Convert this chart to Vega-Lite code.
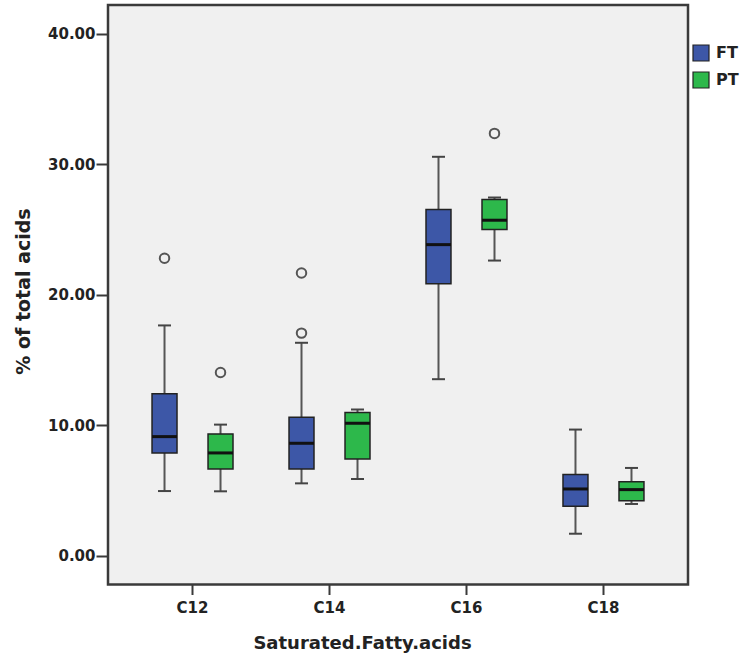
{
  "$schema": "https://vega.github.io/schema/vega-lite/v6.json",
  "autosize": {"type": "none"},
  "padding": {"left": 108, "top": 5, "right": 54, "bottom": 74.5},
  "width": 580,
  "height": 579.5,
  "background": "white",
  "config": {
    "view": {"fill": "#f0f0f0", "stroke": "#3a3a3a", "strokeWidth": 2.5},
    "axis": {
      "grid": false,
      "domain": false,
      "labelFont": "DejaVu Sans",
      "labelFontWeight": "bold",
      "labelFontSize": 15,
      "labelColor": "#222",
      "titleFont": "DejaVu Sans",
      "titleFontWeight": "bold",
      "titleColor": "#222",
      "tickColor": "#3a3a3a",
      "tickWidth": 2
    },
    "legend": {
      "labelFont": "DejaVu Sans",
      "labelFontWeight": "bold",
      "labelFontSize": 16,
      "labelColor": "#222"
    }
  },
  "datasets": {
    "stats": [
      {"acid": "C12", "group": "FT", "lower": 4.96, "q1": 7.88, "median": 9.13, "q3": 12.41, "upper": 17.65},
      {"acid": "C12", "group": "PT", "lower": 4.94, "q1": 6.65, "median": 7.88, "q3": 9.34, "upper": 10.05},
      {"acid": "C14", "group": "FT", "lower": 5.55, "q1": 6.65, "median": 8.62, "q3": 10.62, "upper": 16.32},
      {"acid": "C14", "group": "PT", "lower": 5.89, "q1": 7.42, "median": 10.16, "q3": 10.97, "upper": 11.2},
      {"acid": "C16", "group": "FT", "lower": 13.53, "q1": 20.85, "median": 23.84, "q3": 26.53, "upper": 30.57},
      {"acid": "C16", "group": "PT", "lower": 22.62, "q1": 25.0, "median": 25.71, "q3": 27.3, "upper": 27.45},
      {"acid": "C18", "group": "FT", "lower": 1.69, "q1": 3.79, "median": 5.12, "q3": 6.22, "upper": 9.67},
      {"acid": "C18", "group": "PT", "lower": 3.97, "q1": 4.22, "median": 5.07, "q3": 5.68, "upper": 6.73}
    ],
    "outliers": [
      {"acid": "C12", "group": "FT", "value": 22.8},
      {"acid": "C12", "group": "PT", "value": 14.04},
      {"acid": "C14", "group": "FT", "value": 21.67},
      {"acid": "C14", "group": "FT", "value": 17.06},
      {"acid": "C16", "group": "PT", "value": 32.36}
    ]
  },
  "encoding": {
    "x": {
      "field": "acid",
      "type": "nominal",
      "scale": {"domain": ["C12", "C14", "C16", "C18"], "paddingInner": 0.2, "paddingOuter": 0.217},
      "axis": {
        "labelAngle": 0,
        "tickSize": 10,
        "labelPadding": 6,
        "title": "Saturated.Fatty.acids",
        "titleFontSize": 18,
        "titleX": 254,
        "titleY": 64,
        "titleAlign": "center",
        "titleBaseline": "alphabetic"
      }
    },
    "xOffset": {
      "field": "group",
      "type": "nominal",
      "scale": {"domain": ["FT", "PT"], "paddingInner": 0.554, "paddingOuter": 0.2555}
    }
  },
  "layer": [
    {
      "data": {"name": "stats"},
      "mark": {"type": "rule", "color": "#555555", "strokeWidth": 2},
      "encoding": {
        "y": {
          "field": "lower",
          "type": "quantitative",
          "scale": {"domain": [-2.2, 42.2], "nice": false, "zero": false},
          "axis": {
            "values": [0, 10, 20, 30, 40],
            "format": ".2f",
            "tickSize": 12,
            "labelPadding": 1,
            "title": "% of total acids",
            "titleFontSize": 19,
            "titleAngle": -90,
            "titleX": -85,
            "titleY": 286,
            "titleAlign": "center",
            "titleBaseline": "middle"
          }
        },
        "y2": {"field": "upper"}
      }
    },
    {
      "data": {"name": "stats"},
      "mark": {"type": "tick", "color": "#444444", "size": 13, "thickness": 2, "opacity": 1},
      "encoding": {"y": {"field": "lower", "type": "quantitative"}}
    },
    {
      "data": {"name": "stats"},
      "mark": {"type": "tick", "color": "#444444", "size": 13, "thickness": 2, "opacity": 1},
      "encoding": {"y": {"field": "upper", "type": "quantitative"}}
    },
    {
      "data": {"name": "stats"},
      "mark": {"type": "bar", "stroke": "#222222", "strokeWidth": 1.5, "opacity": 1},
      "encoding": {
        "y": {"field": "q1", "type": "quantitative"},
        "y2": {"field": "q3"},
        "color": {
          "field": "group",
          "type": "nominal",
          "scale": {"domain": ["FT", "PT"], "range": ["#3d57a7", "#2db84b"]},
          "legend": {
            "title": null,
            "orient": "none",
            "legendX": 584,
            "legendY": 39,
            "padding": 0,
            "symbolType": "square",
            "symbolSize": 256,
            "symbolStrokeColor": "#222222",
            "symbolStrokeWidth": 1.2,
            "symbolOpacity": 1,
            "labelOffset": 6,
            "rowPadding": 5
          }
        }
      }
    },
    {
      "data": {"name": "stats"},
      "mark": {"type": "tick", "color": "#111111", "size": 25, "thickness": 3, "opacity": 1},
      "encoding": {"y": {"field": "median", "type": "quantitative"}}
    },
    {
      "data": {"name": "outliers"},
      "mark": {"type": "point", "shape": "circle", "filled": false, "size": 90, "stroke": "#555555", "strokeWidth": 2, "opacity": 1},
      "encoding": {"y": {"field": "value", "type": "quantitative"}}
    }
  ]
}
